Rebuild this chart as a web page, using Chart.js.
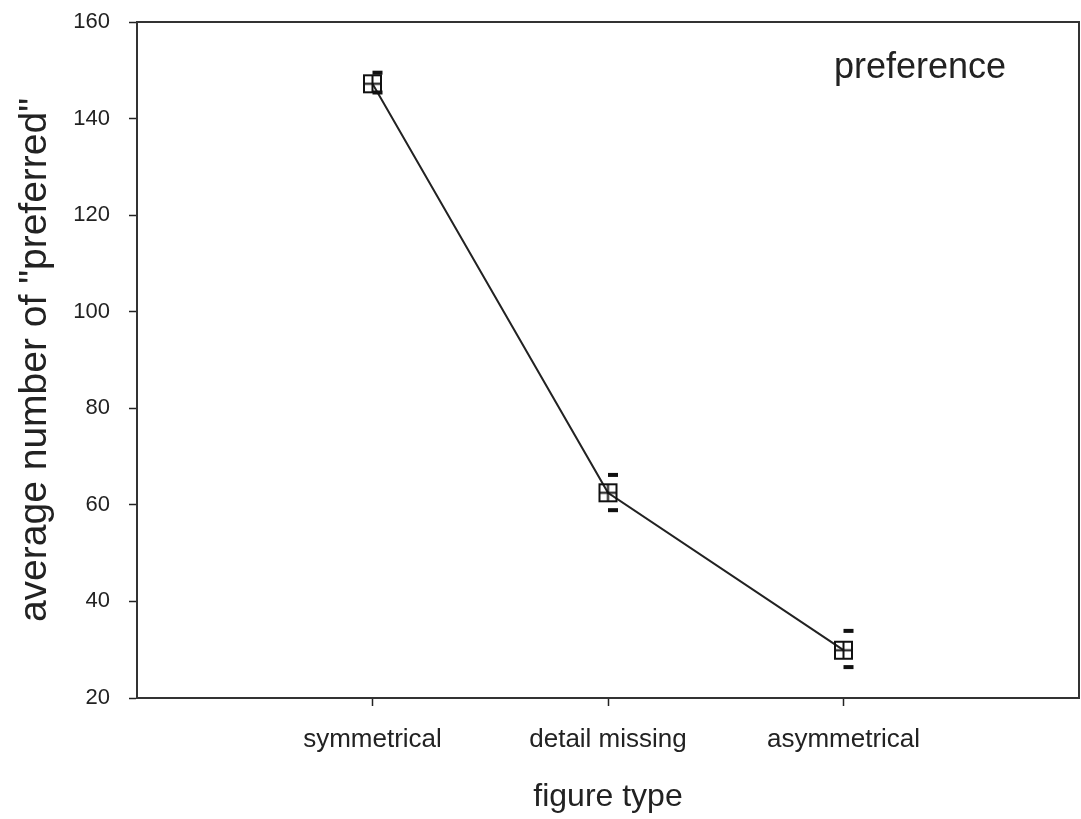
<!DOCTYPE html>
<html>
<head>
<meta charset="utf-8">
<script src="https://cdn.jsdelivr.net/npm/chart.js@4"></script>
<style>
  body { margin: 0; background: #fff; overflow: hidden; }
  #wrap { width: 1081px; height: 819px; }
  canvas { display: block; }
</style>
</head>
<body>
<div id="wrap"><canvas id="grafico" width="1081" height="819"></canvas></div>
<script>
const tipos = ['symmetrical', 'detail missing', 'asymmetrical']
const mediaPreferido = [147.2, 62.5, 29.9]
const erroSuperior = [149.5, 66.2, 33.9]
const erroInferior = [145.4, 58.9, 26.4]
const ticksY = [20, 40, 60, 80, 100, 120, 140, 160]

// marcador: quadrado com cruz dentro
function geraMarcador () {
  let c = document.createElement('canvas')
  c.width = 21
  c.height = 21
  let ctx = c.getContext('2d')
  ctx.strokeStyle = '#111'
  ctx.lineWidth = 2
  ctx.strokeRect(2, 2, 17, 17)
  ctx.beginPath()
  ctx.moveTo(10.5, 2); ctx.lineTo(10.5, 19)
  ctx.moveTo(2, 10.5); ctx.lineTo(19, 10.5)
  ctx.stroke()
  return c
}
const marcador = geraMarcador()

const moldura = {
  id: 'moldura',
  afterDraw (chart) {
    const { ctx, chartArea } = chart
    ctx.save()
    ctx.strokeStyle = '#333'
    ctx.lineWidth = 2
    ctx.beginPath()
    ctx.moveTo(chartArea.left, chartArea.top)
    ctx.lineTo(chartArea.right, chartArea.top)
    ctx.lineTo(chartArea.right, chartArea.bottom)
    ctx.stroke()
    ctx.fillStyle = '#222'
    ctx.font = '36px "Liberation Sans", Arial, sans-serif'
    ctx.textAlign = 'center'
    ctx.textBaseline = 'middle'
    ctx.fillText('preference', 920, 68)
    ctx.restore()
  }
}

const barrasErro = {
  id: 'barrasErro',
  afterDatasetsDraw (chart) {
    const { ctx, scales } = chart
    ctx.save()
    ctx.fillStyle = '#111'
    tipos.forEach((t, i) => {
      let x = scales.x.getPixelForValue(i + 1) + 5
      ;[erroSuperior[i], erroInferior[i]].forEach(v => {
        let y = scales.y.getPixelForValue(v)
        ctx.fillRect(x - 5, y - 2, 10, 4)
      })
    })
    ctx.restore()
  }
}

const familia = '"Liberation Sans", Arial, sans-serif'

function zeraPadding (axis) {
  axis.paddingLeft = 0
  axis.paddingRight = 0
  axis.paddingTop = 0
  axis.paddingBottom = 0
}

new Chart(document.getElementById('grafico'), {
  type: 'line',
  data: {
    datasets: [{
      label: 'preference',
      data: mediaPreferido.map((v, i) => ({ x: i + 1, y: v })),
      borderColor: '#222',
      borderWidth: 2,
      pointStyle: marcador,
      pointRadius: 10,
      tension: 0
    }]
  },
  options: {
    responsive: false,
    animation: false,
    layout: { autoPadding: false, padding: { top: 22, right: 2, left: 0, bottom: 0 } },
    plugins: { legend: { display: false }, tooltip: { enabled: false } },
    scales: {
      x: {
        type: 'linear',
        min: 0,
        max: 4,
        afterBuildTicks: axis => { axis.ticks = tipos.map((t, i) => ({ value: i + 1 })) },
        afterFit: axis => {
          axis.height = 121
          zeraPadding(axis)
        },
        ticks: {
          color: '#222',
          font: { family: familia, size: 26 },
          padding: 18,
          maxRotation: 0,
          callback: v => tipos[v - 1]
        },
        grid: { drawOnChartArea: false, drawTicks: true, tickLength: 8, color: '#222', tickWidth: 1.5 },
        border: { color: '#333', width: 2 },
        title: { display: true, text: 'figure type', color: '#222', font: { family: familia, size: 32 }, padding: { top: 14, bottom: 3 } }
      },
      y: {
        min: 20,
        max: 160,
        afterBuildTicks: axis => { axis.ticks = ticksY.map(v => ({ value: v })) },
        afterFit: axis => {
          axis.width = 137
          zeraPadding(axis)
        },
        ticks: { color: '#222', font: { family: familia, size: 22 }, padding: 19 },
        grid: { drawOnChartArea: false, drawTicks: true, tickLength: 8, color: '#222', tickWidth: 1.5 },
        border: { color: '#333', width: 2 },
        title: { display: true, text: 'average number of "preferred"', color: '#222', font: { family: familia, size: 39 }, padding: { top: 12, bottom: 4 } }
      }
    }
  },
  plugins: [moldura, barrasErro]
})
</script>
</body>
</html>
